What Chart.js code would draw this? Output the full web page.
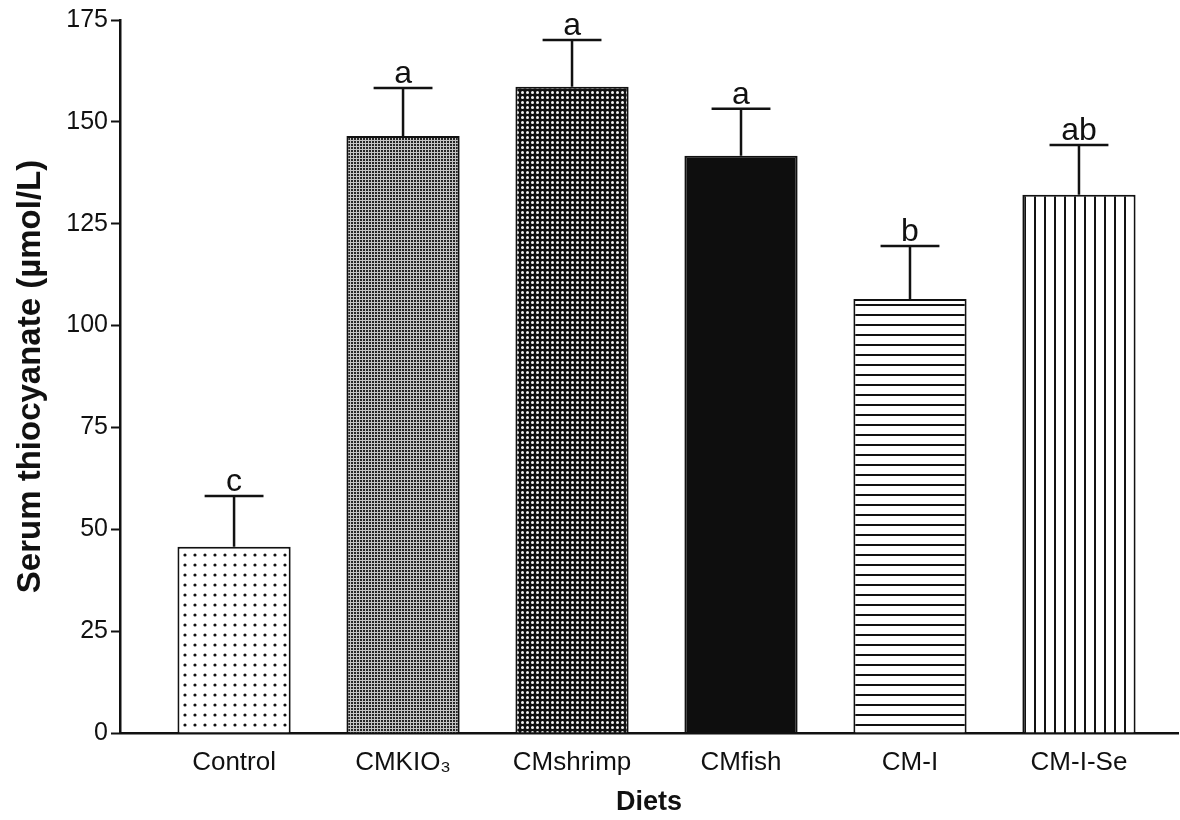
<!DOCTYPE html>
<html>
<head>
<meta charset="utf-8">
<script src="https://cdn.jsdelivr.net/npm/chart.js@4/dist/chart.umd.min.js"></script>
<style>
  html, body { margin: 0; padding: 0; background: #fff; }
  #wrap { width: 1180px; height: 820px; position: relative; }
</style>
</head>
<body>
<div id="wrap"><canvas id="c" width="1180" height="820"></canvas></div>
<script>
// ---- data ----
const categories = ['Control', 'CMKIO\u2083', 'CMshrimp', 'CMfish', 'CM-I', 'CM-I-Se'];
const means = [45.7, 146.5, 158.6, 141.7, 106.5, 132.1];
const sds = [12.5, 11.8, 11.5, 11.5, 13.0, 12.2];
const letters = ['c', 'a', 'a', 'a', 'b', 'ab'];
const yTicks = [0, 25, 50, 75, 100, 125, 150, 175];
const yTitle = 'Serum thiocyanate (\u00b5mol/L)';
const xTitle = 'Diets';

const FONT = '"Liberation Sans", Arial, Helvetica, sans-serif';

// ---- fill patterns ----
function makePattern(w, h, draw) {
  const cv = document.createElement('canvas');
  cv.width = w; cv.height = h;
  const g = cv.getContext('2d');
  draw(g, w, h);
  return g.createPattern(cv, 'repeat');
}
const patterns = [
  // Control: sparse black dots on white
  makePattern(10, 10, (g) => { g.fillStyle = '#fff'; g.fillRect(0, 0, 10, 10); g.fillStyle = '#111'; g.beginPath(); g.arc(5, 5, 1.6, 0, Math.PI * 2); g.fill(); }),
  // CMKIO3: fine dark grid
  makePattern(3, 3, (g) => { g.fillStyle = '#c4c4c4'; g.fillRect(0, 0, 3, 3); g.fillStyle = '#262626'; g.fillRect(0, 0, 2, 2); }),
  // CMshrimp: white dots on black
  makePattern(5, 5, (g) => { g.fillStyle = '#111'; g.fillRect(0, 0, 5, 5); g.fillStyle = '#f4f4f4'; g.beginPath(); g.arc(2.5, 2.5, 1.5, 0, Math.PI * 2); g.fill(); }),
  // CMfish: solid black
  '#0e0e0e',
  // CM-I: horizontal lines
  makePattern(10, 10, (g) => { g.fillStyle = '#fff'; g.fillRect(0, 0, 10, 10); g.fillStyle = '#111'; g.fillRect(0, 4, 10, 2); }),
  // CM-I-Se: vertical lines
  makePattern(10, 10, (g) => { g.fillStyle = '#fff'; g.fillRect(0, 0, 10, 10); g.fillStyle = '#111'; g.fillRect(4, 0, 2, 10); })
];

// ---- error bars and significance letters ----
const errorBarPlugin = {
  id: 'errorBars',
  afterDatasetsDraw(chart) {
    const ctx = chart.ctx;
    const meta = chart.getDatasetMeta(0);
    const yScale = chart.scales.y;
    meta.data.forEach((bar, i) => {
      const top = yScale.getPixelForValue(means[i] + sds[i]);
      const half = bar.width * 0.26;
      ctx.save();
      ctx.strokeStyle = '#111';
      ctx.lineWidth = 2.5;
      ctx.lineCap = 'butt';
      ctx.beginPath();
      ctx.moveTo(bar.x, bar.y);
      ctx.lineTo(bar.x, top);
      ctx.moveTo(bar.x - half, top);
      ctx.lineTo(bar.x + half, top);
      ctx.stroke();
      ctx.fillStyle = '#111';
      ctx.font = '32px ' + FONT;
      ctx.textAlign = 'center';
      ctx.textBaseline = 'alphabetic';
      ctx.fillText(letters[i], bar.x, top - 5);
      ctx.restore();
    });
  }
};

const chart = new Chart(document.getElementById('c'), {
  type: 'bar',
  data: {
    datasets: [{
      data: categories.map((c, i) => ({ x: i, y: means[i] })),
      backgroundColor: patterns,
      borderColor: '#111',
      borderWidth: 2,
      borderSkipped: 'bottom',
      categoryPercentage: 1,
      barPercentage: 0.67
    }]
  },
  plugins: [errorBarPlugin],
  options: {
    responsive: false,
    animation: false,
    devicePixelRatio: 1,
    layout: { padding: { top: 20, right: 2, left: 0, bottom: 0 } },
    plugins: { legend: { display: false }, tooltip: { enabled: false } },
    scales: {
      x: {
        type: 'linear',
        offset: false,
        min: -0.675,
        max: 5.586,
        grid: { display: false, drawTicks: false, offset: false },
        border: { display: true, color: '#111', width: 2.5 },
        afterBuildTicks: (s) => { s.ticks = categories.map((c, i) => ({ value: i })); },
        afterFit: (s) => { s.height = 87; },
        ticks: {
          autoSkip: false,
          maxRotation: 0,
          padding: 14,
          color: '#111',
          font: { family: FONT, size: 26 },
          callback: (v) => categories[v]
        },
        title: {
          display: true,
          text: xTitle,
          color: '#111',
          font: { family: FONT, size: 27, weight: 'bold' },
          padding: { top: 0, bottom: 1 }
        }
      },
      y: {
        min: 0,
        max: 175,
        afterBuildTicks: (s) => { s.ticks = yTicks.map(v => ({ value: v })); },
        afterFit: (s) => { s.width = 120; },
        grid: { display: true, drawOnChartArea: false, drawTicks: true, tickLength: 9, tickWidth: 2, tickColor: '#111' },
        border: { display: true, color: '#111', width: 2.5 },
        ticks: {
          padding: 3,
          color: '#111',
          font: { family: FONT, size: 25 }
        },
        title: {
          display: true,
          text: yTitle,
          color: '#111',
          font: { family: FONT, size: 33, weight: 'bold' },
          padding: { top: 11, bottom: 0 }
        }
      }
    }
  }
});
</script>
</body>
</html>
